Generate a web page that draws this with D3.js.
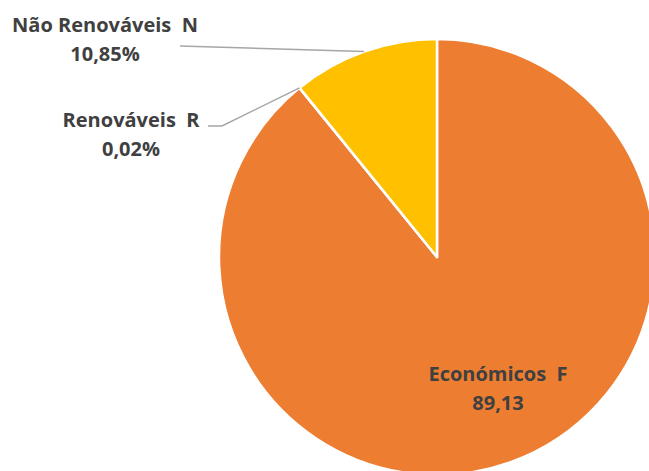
<!DOCTYPE html>
<html><head><meta charset="utf-8">
<script src="https://cdn.jsdelivr.net/npm/d3@7"></script>
<style>body{margin:0;background:#fff}svg{display:block}</style>
</head><body>
<script>
const categories = ["Económicos  F", "Renováveis  R", "Não Renováveis  N"];
const values = [89.13, 0.02, 10.85];
const valueLabels = ["89,13", "0,02%", "10,85%"];
const colors = ["#ED7D31", "#A5A5A5", "#FFC000"];

const W = 649, H = 471;
const cx = 437, cy = 257, R = 218;
// label layout (centre x, first baseline y), leader line elbow
const labelPos = [
  {x: 498, y: 381, leader: false},
  {x: 131, y: 127, leader: true, elbow: [[208,126],[222,126]]},
  {x: 105, y: 32, leader: true, elbow: [[180,46]]}
];

const svg = d3.select("body").append("svg").attr("width", W).attr("height", H);
const g = svg.append("g").attr("transform", `translate(${cx},${cy})`);
const pie = d3.pie().sort(null).value(d => d)(values);
const arc = d3.arc().innerRadius(0).outerRadius(R);

g.selectAll("path").data(pie).join("path")
  .attr("d", arc)
  .attr("fill", (d,i) => colors[i])
  .attr("stroke", "#fff").attr("stroke-width", 2.5).attr("stroke-linejoin","round");

pie.forEach((d,i) => {
  const lp = labelPos[i];
  if (lp.leader) {
    const a = (d.startAngle + d.endAngle) / 2;
    const end = [cx + R*Math.sin(a), cy - R*Math.cos(a)];
    const pts = lp.elbow.concat([end]);
    svg.append("path").attr("d", d3.line()(pts))
      .attr("fill","none").attr("stroke","#A6A6A6").attr("stroke-width",1.5);
  }
  const t = svg.append("text").attr("text-anchor","middle")
    .attr("font-family","'Open Sans', sans-serif").attr("font-weight","bold")
    .attr("font-size", 20).attr("fill","#404040");
  t.append("tspan").attr("x", lp.x).attr("y", lp.y).style("white-space","pre").text(categories[i]);
  t.append("tspan").attr("x", lp.x).attr("y", lp.y + 29).text(valueLabels[i]);
});
</script>
</body></html>
